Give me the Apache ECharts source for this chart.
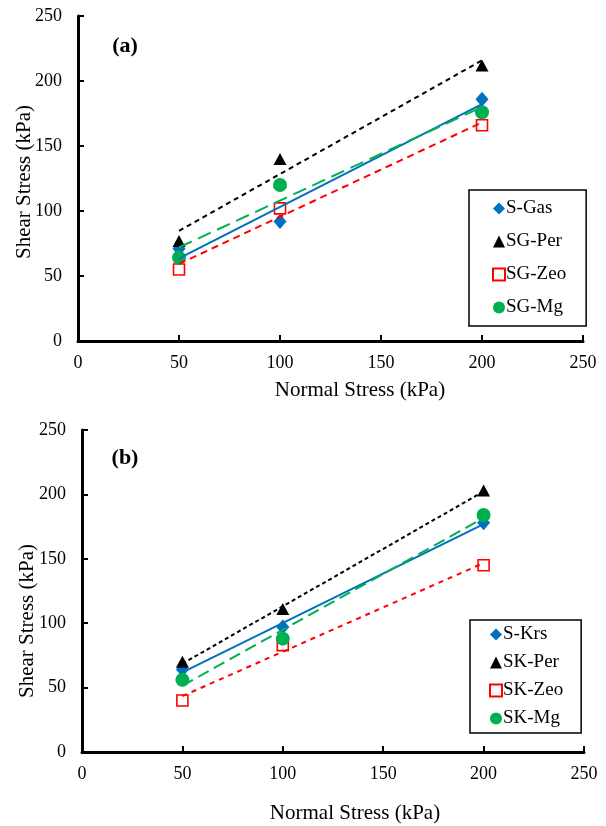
<!DOCTYPE html>
<html>
<head>
<meta charset="utf-8">
<script src="https://cdn.jsdelivr.net/npm/echarts@6/dist/echarts.min.js"></script>
<style>
  html, body { margin: 0; padding: 0; background: #fff; }
  #chart { width: 606px; height: 826px; }
</style>
</head>
<body>
<div id="chart"></div>
<script>
// Normal stress levels used in the direct shear tests (kPa)
const normalStress = [50, 100, 200];

// Panel (a): gas-treated soil mixes, peak shear stress (kPa)
const sGas  = [71, 92, 186];
const sgPer = [77, 140, 212];
const sgZeo = [55, 102, 166];
const sgMg  = [64, 120, 176];

// Panel (b): Krs soil mixes, peak shear stress (kPa)
const sKrs  = [64, 97, 178];
const skPer = [70, 111, 203];
const skZeo = [40, 83, 145];
const skMg  = [56, 88, 184];

const axisTicks = [0, 50, 100, 150, 200, 250];

const FONT = 'Liberation Serif';
const BLUE = '#0070C0', BLACK = '#000000', RED = '#FF0000', GREEN = '#00B050';

// least-squares linear trendline over the tested range
function trend(xs, ys) {
  const n = xs.length;
  const mx = xs.reduce((a, b) => a + b, 0) / n;
  const my = ys.reduce((a, b) => a + b, 0) / n;
  let sxy = 0, sxx = 0;
  for (let i = 0; i < n; i++) {
    sxy += (xs[i] - mx) * (ys[i] - my);
    sxx += (xs[i] - mx) * (xs[i] - mx);
  }
  const k = sxy / sxx, b = my - k * mx;
  const x0 = Math.min(...xs), x1 = Math.max(...xs);
  return [[x0, k * x0 + b], [x1, k * x1 + b]];
}

function pts(ys) { return normalStress.map((x, i) => [x, ys[i]]); }

const markerStyles = [
  { symbol: 'diamond',  symbolSize: [13, 15], itemStyle: { color: BLUE, opacity: 1 } },
  { symbol: 'triangle', symbolSize: [13, 12], itemStyle: { color: BLACK, opacity: 1 } },
  { symbol: 'rect',     symbolSize: 11, itemStyle: { color: '#ffffff', borderColor: RED, borderWidth: 1.6, opacity: 1 } },
  { symbol: 'circle',   symbolSize: 14, itemStyle: { color: GREEN, opacity: 1 } }
];

function panelSeries(idx, names, sets, dashes) {
  const colors = [BLUE, BLACK, RED, GREEN];
  const out = [];
  sets.forEach((ys, i) => {
    out.push(Object.assign({
      name: names[i], type: 'scatter', xAxisIndex: idx, yAxisIndex: idx,
      data: pts(ys), z: 2
    }, markerStyles[i]));
  });
  sets.forEach((ys, i) => {
    out.push({
      name: names[i] + ' trend', type: 'line', xAxisIndex: idx, yAxisIndex: idx,
      data: trend(normalStress, ys), symbol: 'none', z: 3, silent: true,
      lineStyle: { color: colors[i], width: 2, type: dashes[i] }
    });
  });
  return out;
}

const namesA = ['S-Gas', 'SG-Per', 'SG-Zeo', 'SG-Mg'];
const namesB = ['S-Krs', 'SK-Per', 'SK-Zeo', 'SK-Mg'];

function axisCfg(gridIndex, margin) {
  return {
    type: 'value', gridIndex, min: 0, max: 250, interval: 50,
    axisLine: { onZero: false, lineStyle: { color: '#000', width: 3 } },
    axisTick: { show: true, inside: true, length: 6, lineStyle: { color: '#000', width: 2 } },
    axisLabel: { color: '#000', fontFamily: FONT, fontSize: 18, margin,
                 formatter: v => axisTicks.includes(v) ? String(v) : '' },
    splitLine: { show: false }
  };
}

function legendCfg(names, left, top, gap, padding) {
  return {
    data: names, orient: 'vertical', left, top, itemGap: gap,
    itemWidth: 12, itemHeight: 12, padding,
    borderColor: '#000', borderWidth: 1.5, backgroundColor: '#fff',
    selectedMode: false,
    textStyle: { color: '#000', fontFamily: FONT, fontSize: 19, padding: [0, 0, 0, -4] }
  };
}

function titleText(text, x, y, rotate) {
  return {
    type: 'text', x, y, rotation: rotate ? Math.PI / 2 : 0,
    style: { text, fill: '#000', font: '21px "' + FONT + '"', align: 'center', verticalAlign: 'middle' }
  };
}

const chart = echarts.init(document.getElementById('chart'), null, { renderer: 'canvas' });
chart.setOption({
  animation: false,
  backgroundColor: '#ffffff',
  grid: [
    { left: 78, top: 16, width: 505, height: 325 },
    { left: 82, top: 430, width: 502, height: 322 }
  ],
  xAxis: [axisCfg(0, 13), axisCfg(1, 13)],
  yAxis: [axisCfg(0, 16), axisCfg(1, 16)],
  legend: [
    legendCfg(namesA, 469, 190, 14, [9, 20, 9, 23]),
    legendCfg(namesB, 470, 620, 9, [5, 18, 5, 19])
  ],
  graphic: [
    titleText('Normal Stress (kPa)', 360, 390, false),
    titleText('Shear Stress (kPa)', 24, 182, true),
    titleText('Normal Stress (kPa)', 355, 813, false),
    titleText('Shear Stress (kPa)', 27, 621, true),
    { type: 'text', x: 125, y: 46, style: { text: '(a)', fill: '#000', font: 'bold 22px "' + FONT + '"', align: 'center', verticalAlign: 'middle' } },
    { type: 'text', x: 125, y: 458, style: { text: '(b)', fill: '#000', font: 'bold 22px "' + FONT + '"', align: 'center', verticalAlign: 'middle' } }
  ],
  series: [
    ...panelSeries(0, namesA, [sGas, sgPer, sgZeo, sgMg], ['solid', [5, 4], [7, 5], [14, 7]]),
    ...panelSeries(1, namesB, [sKrs, skPer, skZeo, skMg], ['solid', [4, 3], [5, 5], [12, 6]])
  ]
});
</script>
</body>
</html>
